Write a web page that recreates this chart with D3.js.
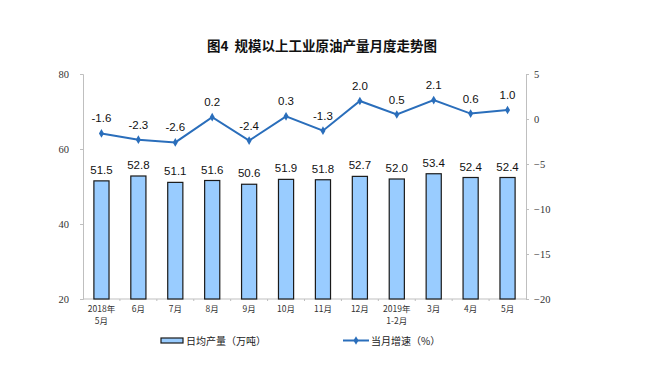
<!DOCTYPE html>
<html><head><meta charset="utf-8">
<script src="https://cdn.jsdelivr.net/npm/d3@7"></script>
<style>body{margin:0;background:#fff}</style>
</head><body><svg id="c" width="649" height="369"></svg>
<script>
const categories = [["2018年","5月"],["6月"],["7月"],["8月"],["9月"],["10月"],["11月"],["12月"],["2019年","1-2月"],["3月"],["4月"],["5月"]];
const output = [51.5,52.8,51.1,51.6,50.6,51.9,51.8,52.7,52.0,53.4,52.4,52.4];
const growth = [-1.6,-2.3,-2.6,0.2,-2.4,0.3,-1.3,2.0,0.5,2.1,0.6,1.0];
const leftTicks = [20,40,60,80];
const rightTicks = [-20,-15,-10,-5,0,5];

const svg = d3.select("#c");
const L=83, R=526, T=74, B=299;
const x = d3.scaleBand().domain(d3.range(categories.length)).range([L,R]).paddingInner(0.59).paddingOuter(0.295);
const xb = d3.scaleBand().domain(d3.range(categories.length)).range([L,R]);
const yl = d3.scaleLinear().domain([20,80]).range([B,T]);
const yr = d3.scaleLinear().domain([-20,5]).range([B,T]);

svg.append("text").attr("x",322).attr("y",51).attr("text-anchor","middle").style("white-space","pre")
  .attr("font-family","Noto Sans CJK SC").attr("font-weight","bold").attr("font-size",13.5).attr("fill","#111")
  .text("图4  规模以上工业原油产量月度走势图");

const axisCol="#bfbfbf";
// left axis
const gl = svg.append("g").attr("transform",`translate(${L},0)`).call(d3.axisLeft(yl).tickValues(leftTicks).tickSize(3).tickFormat(d3.format("d")));
gl.select(".domain").attr("stroke",axisCol);
gl.selectAll(".tick line").attr("stroke",axisCol);
gl.selectAll(".tick text").attr("font-family","Liberation Serif").attr("font-size",10.5).attr("fill","#333").attr("x",-14);
// right axis
const gr = svg.append("g").attr("transform",`translate(${R},0)`).call(d3.axisRight(yr).tickValues(rightTicks).tickSize(3).tickFormat(d3.format("d")));
gr.select(".domain").attr("stroke",axisCol);
gr.selectAll(".tick line").attr("stroke",axisCol);
gr.selectAll(".tick text").attr("font-family","Liberation Serif").attr("font-size",10.5).attr("fill","#333").attr("x",8);
// bottom axis
svg.append("line").attr("x1",L).attr("x2",R).attr("y1",B).attr("y2",B).attr("stroke",axisCol);
svg.selectAll(".bt").data(d3.range(1,categories.length)).enter().append("line")
  .attr("x1",d=>xb(d)).attr("x2",d=>xb(d)).attr("y1",B).attr("y2",B+2).attr("stroke",axisCol);

// bars
svg.selectAll(".bar").data(output).enter().append("rect")
  .attr("x",(d,i)=>x(i)).attr("width",x.bandwidth())
  .attr("y",d=>yl(d)).attr("height",d=>B-yl(d))
  .attr("fill","#99ccff").attr("stroke","#1a1a1a").attr("stroke-width",1.2);
svg.selectAll(".bl").data(output).enter().append("text")
  .attr("x",(d,i)=>x(i)+x.bandwidth()/2).attr("y",d=>yl(d)-7).attr("text-anchor","middle")
  .attr("font-family","Liberation Sans").attr("font-size",11.5).attr("fill","#111").text(d=>d.toFixed(1));

// line
const cx = i=>xb(i)+xb.bandwidth()/2;
svg.append("path").datum(growth).attr("fill","none").attr("stroke","#2a6ebb").attr("stroke-width",2)
  .attr("d",d3.line().x((d,i)=>cx(i)).y(d=>yr(d)));
svg.selectAll(".mk").data(growth).enter().append("path")
  .attr("transform",(d,i)=>`translate(${cx(i)},${yr(d)})`)
  .attr("d",d3.symbol(d3.symbolDiamond,22)).attr("fill","#2a6ebb");
svg.selectAll(".gl").data(growth).enter().append("text")
  .attr("x",(d,i)=>cx(i)).attr("y",d=>yr(d)-11).attr("text-anchor","middle")
  .attr("font-family","Liberation Sans").attr("font-size",11.5).attr("fill","#111").text(d=>d.toFixed(1));

// category labels
const cl = svg.selectAll(".cl").data(categories).enter().append("text")
  .attr("text-anchor","middle").attr("font-family","Noto Sans CJK SC").attr("font-size",8.5).attr("fill","#333");
cl.each(function(d,i){
  d.forEach((s,j)=>d3.select(this).append("tspan").attr("x",cx(i)).attr("y",B+13+j*12).text(s));
});

// legend
svg.append("rect").attr("x",161).attr("y",338).attr("width",22).attr("height",5)
  .attr("fill","#99ccff").attr("stroke","#1a1a1a").attr("stroke-width",1.2);
svg.append("text").attr("x",186).attr("y",345).attr("font-family","Noto Sans CJK SC").attr("font-size",10).attr("fill","#222").text("日均产量（万吨）");
svg.append("line").attr("x1",343).attr("x2",369).attr("y1",340.5).attr("y2",340.5).attr("stroke","#2a6ebb").attr("stroke-width",2);
svg.append("path").attr("transform","translate(356,340.5)").attr("d",d3.symbol(d3.symbolDiamond,22)).attr("fill","#2a6ebb");
svg.append("text").attr("x",371).attr("y",345).attr("font-family","Noto Sans CJK SC").attr("font-size",10).attr("fill","#222").text("当月增速（%）");
</script></body></html>
